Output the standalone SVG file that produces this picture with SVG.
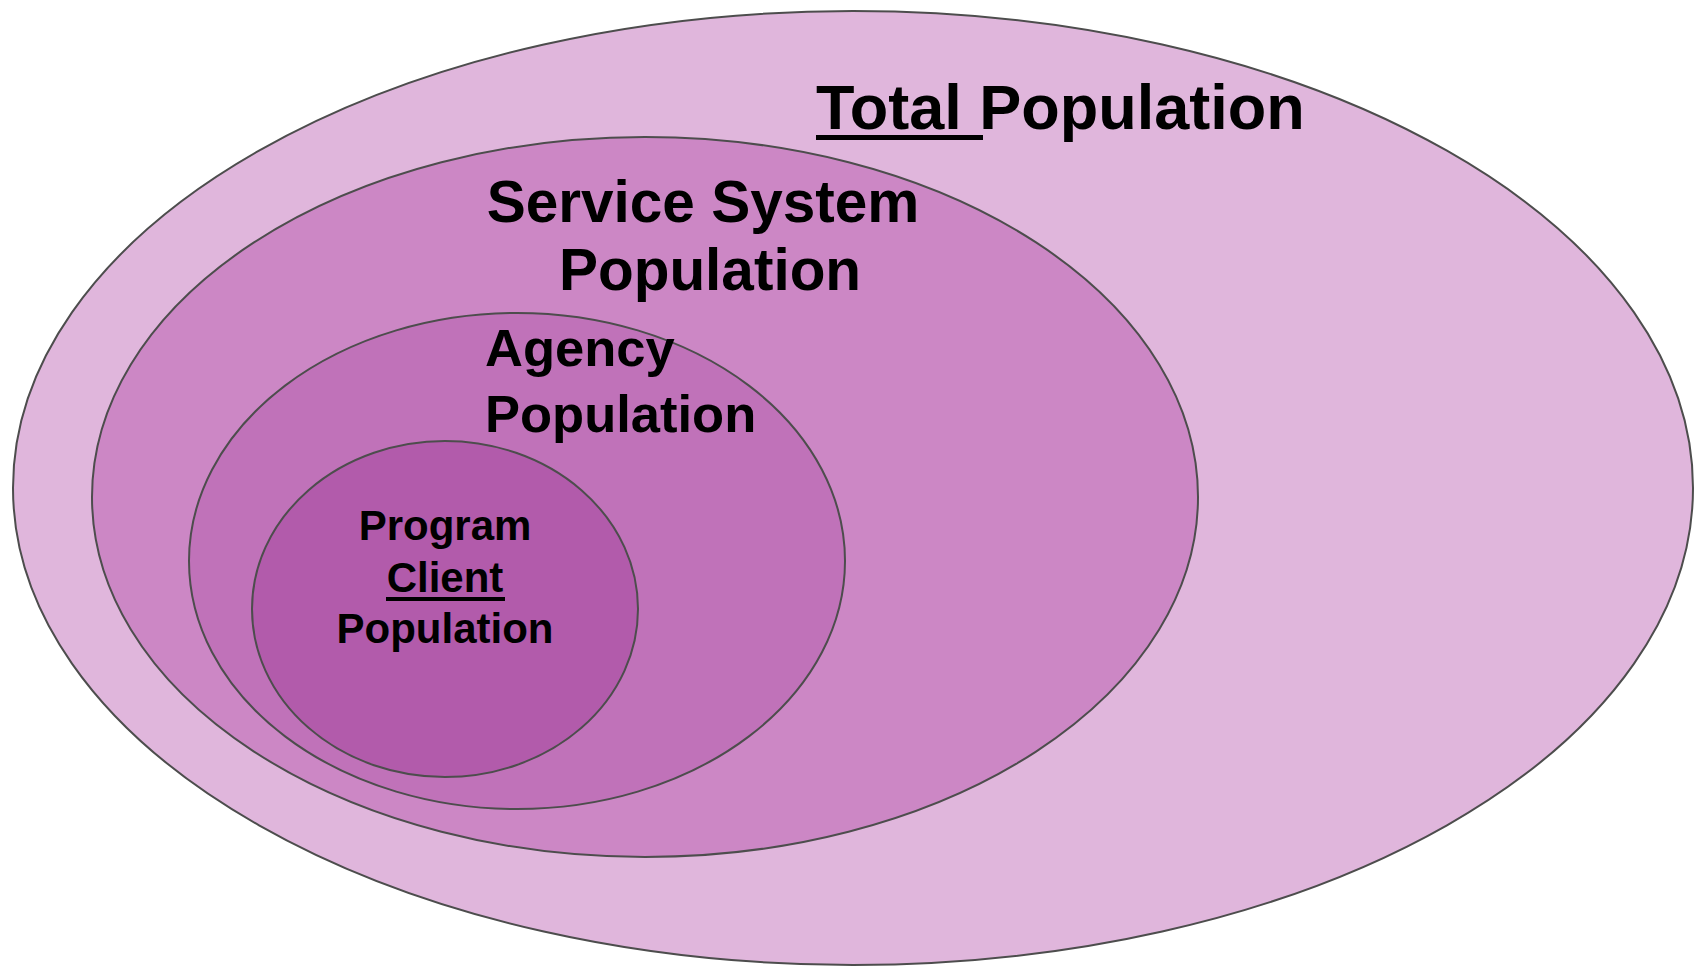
<svg xmlns="http://www.w3.org/2000/svg" width="1695" height="969" viewBox="0 0 1695 969">
<style>
.ell{stroke:#4d4d4d;stroke-width:2}
.t{font-family:"Liberation Sans",Arial,sans-serif;font-weight:bold;fill:#000}
.u{fill:#000}
</style>
<rect width="1695" height="969" fill="#ffffff"/>
<g id="total">
<ellipse class="ell" cx="853" cy="488" rx="840" ry="477" fill="#e0b6dc"/>
<text class="t" x="816" y="129" font-size="63">Total Population</text>
<rect class="u" x="816" y="135" width="167" height="5"/>
</g>
<g id="service">
<ellipse class="ell" cx="645" cy="497" rx="553" ry="360" fill="#cc87c5"/>
<text class="t" x="703" y="222" font-size="58.5" text-anchor="middle">Service System</text>
<text class="t" x="710" y="290" font-size="58.5" text-anchor="middle">Population</text>
</g>
<g id="agency">
<ellipse class="ell" cx="517" cy="561" rx="328" ry="248" fill="#c072b9"/>
<text class="t" x="485" y="366" font-size="52.5">Agency</text>
<text class="t" x="485" y="432" font-size="52.5">Population</text>
</g>
<g id="program">
<ellipse class="ell" cx="445" cy="609" rx="193" ry="168" fill="#b25bab"/>
<text class="t" x="445" y="540" font-size="42" text-anchor="middle">Program</text>
<text class="t" x="445" y="592" font-size="42" text-anchor="middle">Client</text>
<rect class="u" x="386" y="597" width="119" height="4"/>
<text class="t" x="445" y="643" font-size="42" text-anchor="middle">Population</text>
</g>
<g id="connectors"></g>
</svg>
